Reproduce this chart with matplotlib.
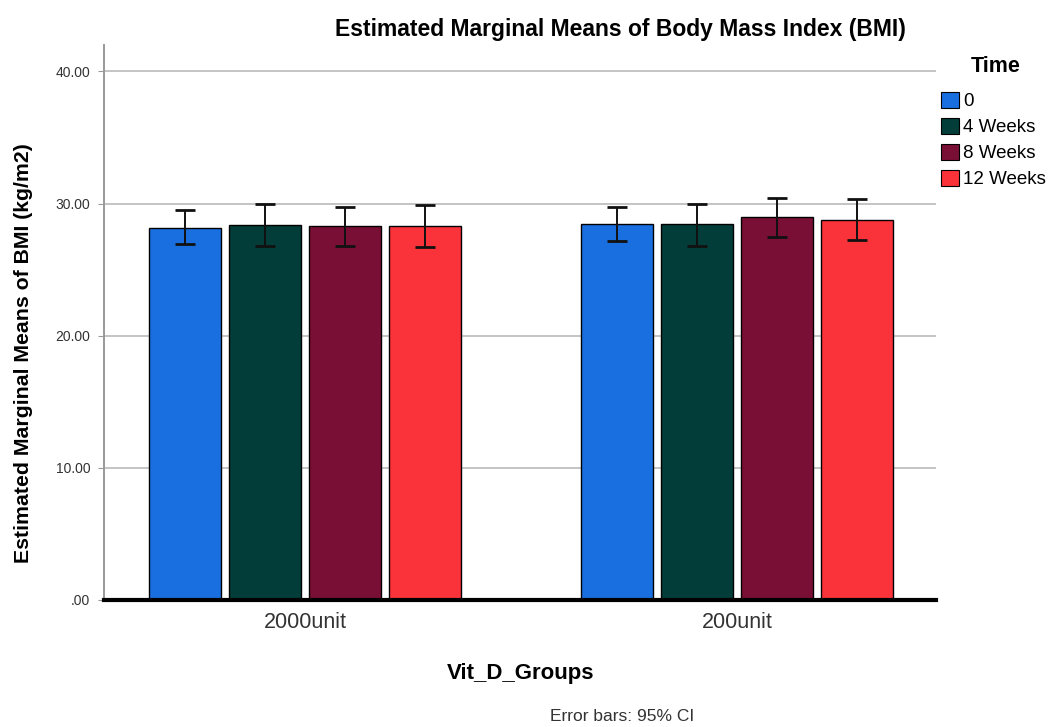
import matplotlib
matplotlib.use('Agg')
import numpy as np
import matplotlib.pyplot as plt
from matplotlib.patches import Patch

groups = ['2000unit', '200unit']
times = ['0', '4 Weeks', '8 Weeks', '12 Weeks']
colors = ['#1a6fe0', '#023d3a', '#7a0f35', '#fa3239']

# estimated means and 95% CI bounds, one row per time point
means = np.array([[28.17, 28.47],
                  [28.40, 28.42],
                  [28.29, 28.95],
                  [28.27, 28.77]])
lower = np.array([[26.91, 27.14],
                  [26.83, 26.83],
                  [26.83, 27.51],
                  [26.70, 27.26]])
upper = np.array([[29.48, 29.73],
                  [29.98, 29.96],
                  [29.78, 30.44],
                  [29.86, 30.36]])

yticks = [0, 10, 20, 30, 40]
ytick_labels = ['.00', '10.00', '20.00', '30.00', '40.00']

plt.rcParams['font.family'] = ['Liberation Sans', 'DejaVu Sans']

fig = plt.figure(figsize=(10.54, 7.27), dpi=100)
ax = fig.add_axes([0.0987, 0.1747, 0.7893, 0.7633])

x = np.arange(len(groups))
width = 0.1665
pitch = 0.185

for i in range(len(times)):
    pos = x + (i - 1.5) * pitch
    err = [means[i] - lower[i], upper[i] - means[i]]
    ax.bar(pos, means[i], width, color=colors[i], edgecolor='black',
           linewidth=1.0, zorder=3)
    ax.errorbar(pos, means[i], yerr=err, fmt='none', ecolor='#111111',
                elinewidth=1.4, capsize=7.5, capthick=2.0, zorder=4)

ax.set_xlim(-0.465, 1.459)
ax.set_ylim(0, 42)
ax.set_yticks(yticks)
ax.set_yticklabels(ytick_labels, fontsize=10, color='#333333')
ax.set_xticks(x)
ax.set_xticklabels(groups, fontsize=15.5, color='#333333')
ax.yaxis.grid(True, color='#c4c4c4', linewidth=1.4, zorder=0)
ax.tick_params(axis='y', length=4, color='#999999', pad=6)
ax.tick_params(axis='x', length=0, pad=8.5)

for s in ['top', 'right']:
    ax.spines[s].set_visible(False)
ax.spines['left'].set_color('#999999')
ax.spines['left'].set_linewidth(1.4)
ax.spines['bottom'].set_color('black')
ax.spines['bottom'].set_linewidth(3)
ax.spines['bottom'].set_zorder(5)

fig.text(0.022, 0.514, 'Estimated Marginal Means of BMI (kg/m2)', fontsize=15.3,
         fontweight='bold', rotation=90, ha='center', va='center')
fig.text(0.494, 0.074, 'Vit_D_Groups', fontsize=16, fontweight='bold',
         ha='center', va='center')
fig.text(0.589, 0.959, 'Estimated Marginal Means of Body Mass Index (BMI)',
         fontsize=16.5, fontweight='bold', ha='center', va='center')
fig.text(0.590, 0.014, 'Error bars: 95% CI', fontsize=12.5, color='#333333',
         ha='center', va='center')

handles = [Patch(facecolor=c, edgecolor='black', linewidth=0.8) for c in colors]
leg = fig.legend(handles, times, loc='upper left', bbox_to_anchor=(0.893, 0.874),
                 frameon=False, fontsize=13.5, handlelength=0.95,
                 handleheight=0.95, handletextpad=0.2, labelspacing=0.4,
                 borderaxespad=0, borderpad=0)
fig.text(0.945, 0.908, 'Time', fontsize=15.5, fontweight='bold',
         ha='center', va='center')

fig.savefig('out.png', dpi=100)
